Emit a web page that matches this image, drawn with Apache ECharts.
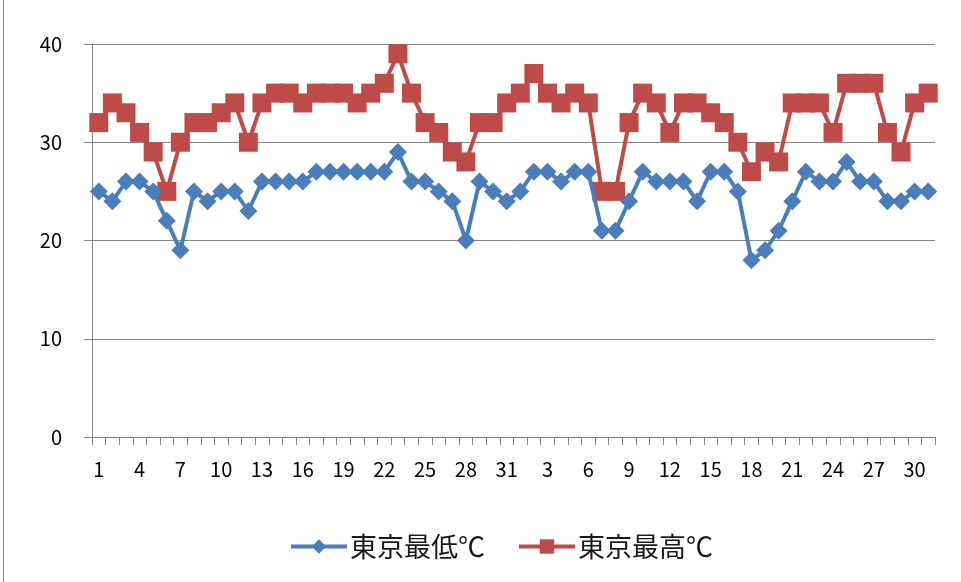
<!DOCTYPE html>
<html>
<head>
<meta charset="utf-8">
<script src="https://cdn.jsdelivr.net/npm/echarts@6/dist/echarts.min.js"></script>
<style>
html,body{margin:0;padding:0;background:#fff;}
#c{width:961px;height:582px;}
</style>
</head>
<body>
<div id="c"></div>
<script>
const julyDays = Array.from({length:31},(_,i)=>String(i+1));
const augDays = Array.from({length:31},(_,i)=>String(i+1));
const categories = julyDays.concat(augDays);

const lowJuly = [25,24,26,26,25,22,19,25,24,25,25,23,26,26,26,26,27,27,27,27,27,27,29,26,26,25,24,20,26,25,24];
const lowAug  = [25,27,27,26,27,27,21,21,24,27,26,26,26,24,27,27,25,18,19,21,24,27,26,26,28,26,26,24,24,25,25];
const highJuly = [32,34,33,31,29,25,30,32,32,33,34,30,34,35,35,34,35,35,35,34,35,36,39,35,32,31,29,28,32,32,34];
const highAug  = [35,37,35,34,35,34,25,25,32,35,34,31,34,34,33,32,30,27,29,28,34,34,34,31,36,36,36,31,29,34,35];

const lowName = '東京最低℃';
const highName = '東京最高℃';
const yTicks = [0,10,20,30,40];

const chart = echarts.init(document.getElementById('c'), null, {renderer:'canvas'});
const font = '"Noto Sans CJK JP", "Noto Sans", sans-serif';
chart.setOption({
  animation:false,
  backgroundColor:'#fff',
  textStyle:{fontFamily:font},
  grid:{left:92,right:26,top:44,bottom:145,containLabel:false},
  legend:{
    bottom:17,left:284,
    itemWidth:56,itemHeight:18,itemGap:32,
    lineStyle:{width:4},
    textStyle:{fontSize:27,color:'#1a1a1a',fontFamily:font,padding:[0,0,0,-2]},
    data:[lowName,highName]
  },
  xAxis:{
    type:'category',
    data:categories,
    boundaryGap:true,
    axisLine:{show:true,lineStyle:{color:'#868686',width:1}},
    axisTick:{show:true,interval:0,length:8,lineStyle:{color:'#868686'}},
    axisLabel:{interval:2,fontSize:20,color:'#000',margin:22,fontFamily:font},
    splitLine:{show:false}
  },
  yAxis:{
    type:'value',
    min:yTicks[0],max:yTicks[yTicks.length-1],interval:10,
    axisLine:{show:true,lineStyle:{color:'#868686',width:1}},
    axisTick:{show:true,length:8,lineStyle:{color:'#868686'}},
    axisLabel:{fontSize:20,color:'#000',margin:30,fontFamily:font},
    splitLine:{show:true,lineStyle:{color:'#868686',width:1}}
  },
  series:[
    {
      name:lowName,type:'line',data:lowJuly.concat(lowAug),
      symbol:'diamond',symbolSize:18,showAllSymbol:true,
      lineStyle:{color:'#4A7EBB',width:4},
      itemStyle:{color:'#4A7EBB'},
      emphasis:{disabled:true},z:3
    },
    {
      name:highName,type:'line',data:highJuly.concat(highAug),
      symbol:'rect',symbolSize:19,showAllSymbol:true,
      lineStyle:{color:'#BE4B48',width:4},
      itemStyle:{color:'#BE4B48'},
      emphasis:{disabled:true},z:2
    }
  ],
  graphic:[
    {type:'line',shape:{x1:3.5,y1:0,x2:3.5,y2:582},style:{stroke:'#868686',lineWidth:1}}
  ]
});
</script>
</body>
</html>
